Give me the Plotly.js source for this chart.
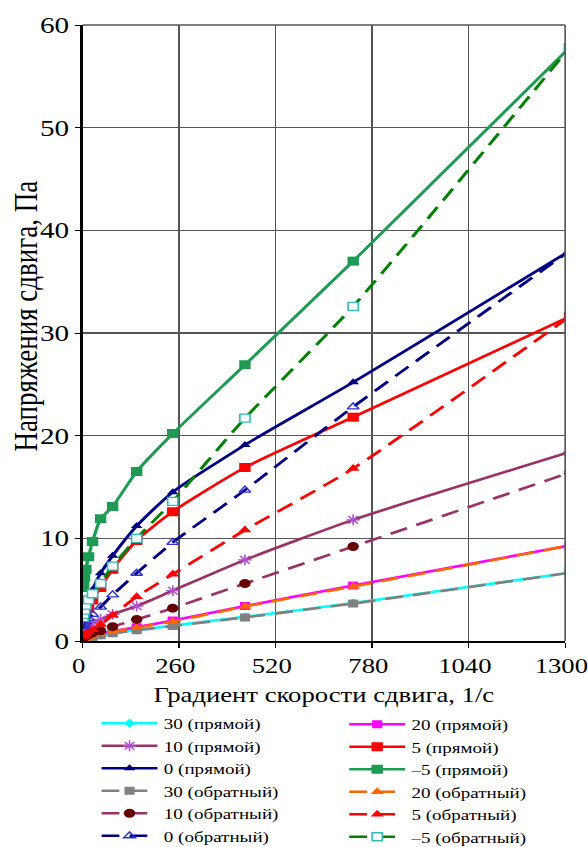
<!DOCTYPE html>
<html>
<head>
<meta charset="utf-8">
<script src="https://cdn.plot.ly/plotly-3.0.1.min.js"></script>
<style>
html,body{margin:0;padding:0;background:#fff;overflow:hidden;width:588px;height:847px;}
#chart{width:472px;height:847px;transform-origin:0 0;}
</style>
</head>
<body>
<div id="chart"></div>
<script>
// Shear rates (1/s)
const rates = [1.5, 3, 5.4, 9, 16.2, 27, 48.6, 81, 145.8, 243, 437.4, 729, 1312];
// Shear stress (Pa) per temperature, direct (прямой) and reverse (обратный)
const s30_direct  = [0.1, 0.15, 0.2, 0.25, 0.3, 0.4, 0.55, 0.75, 1.05, 1.5, 2.35, 3.7, 6.65];
const s20_direct  = [0.15, 0.2, 0.25, 0.3, 0.4, 0.5, 0.7, 0.95, 1.35, 2.0, 3.4, 5.4, 9.3];
const s10_direct  = [0.5, 0.7, 0.9, 1.1, 1.4, 1.7, 2.1, 2.6, 3.4, 4.9, 7.9, 11.8, 18.4];
const s5_direct   = [2.1, 2.3, 2.5, 2.7, 3.2, 4.0, 5.2, 7.0, 9.8, 12.6, 16.9, 21.8, 31.6];
const s0_direct   = [1.6, 2.0, 2.4, 3.0, 4.0, 5.0, 6.6, 8.3, 11.2, 14.5, 19.1, 25.2, 38.0];
const sm5_direct  = [5.2, 5.6, 6.2, 7.0, 8.2, 9.7, 11.9, 13.1, 16.5, 20.2, 26.9, 37.0, 57.8];
const s30_reverse = [0.1, 0.15, 0.2, 0.25, 0.3, 0.4, 0.55, 0.75, 1.05, 1.45, 2.3, 3.65, 6.65];
const s20_reverse = [0.15, 0.2, 0.25, 0.3, 0.4, 0.5, 0.7, 0.9, 1.3, 1.9, 3.35, 5.3, 9.3];
const s10_reverse = [0.3, 0.35, 0.4, 0.5, 0.6, 0.8, 1.0, 1.4, 2.1, 3.2, 5.6, 9.2, 16.4];
const s5_reverse  = [0.45, 0.5, 0.6, 0.7, 0.9, 1.1, 1.6, 2.5, 4.3, 6.5, 10.8, 16.8, 31.6];
const s0_reverse  = [1.4, 1.5, 1.7, 1.9, 2.2, 2.6, 3.3, 4.5, 6.6, 9.6, 14.7, 22.8, 38.0];
const sm5_reverse = [2.3, 2.6, 3.0, 3.5, 4.0, 4.6, 5.6, 7.3, 10.0, 13.6, 21.7, 32.6, 57.8];

const names = ["30 (прямой)", "10 (прямой)", "0 (прямой)", "20 (прямой)", "5 (прямой)", "–5 (прямой)",
               "30 (обратный)", "10 (обратный)", "0 (обратный)", "20 (обратный)", "5 (обратный)", "–5 (обратный)"];
const xTicks = [0, 260, 520, 780, 1040, 1300];
const yTitle = "Напряжения сдвига, Па";
const xTitle = "Градиент скорости сдвига, 1/с";

const DASH = "14px,8px";
function tr(name, y, legend, rank, lineColor, dash, sym, mColor, mSize, mLine) {
  return {
    type: "scatter", mode: "lines+markers", name: name, x: rates, y: y,
    legend: legend, legendrank: rank,
    line: {color: lineColor, width: 2.6, dash: dash, shape: "spline", smoothing: 0.6},
    marker: {symbol: sym, color: mColor, size: mSize, line: mLine || {width: 0}},
    cliponaxis: true
  };
}
const data = [
  tr(names[0], s30_direct, "legend", 1, "#00FFFF", "solid", "diamond", "#00FFFF", 7),
  tr(names[3], s20_direct, "legend2", 1, "#FF00FF", "solid", "square", "#FF00FF", 8),
  tr(names[1], s10_direct, "legend", 2, "#993366", "solid", "asterisk-open", "#B050D0", 9, {color: "#B050D0", width: 1.3}),
  tr(names[4], s5_direct, "legend2", 2, "#FF0000", "solid", "square", "#FF0000", 9),
  tr(names[2], s0_direct, "legend", 3, "#000080", "solid", "triangle-up", "#000080", 8),
  tr(names[5], sm5_direct, "legend2", 3, "#1F9A55", "solid", "square", "#1F9A55", 9),
  tr(names[6], s30_reverse, "legend", 4, "#808080", DASH, "square", "#808080", 8),
  tr(names[9], s20_reverse, "legend2", 4, "#FF6600", DASH, "triangle-up", "#FF6600", 9),
  tr(names[7], s10_reverse, "legend", 5, "#993366", DASH, "circle", "#660000", 9),
  tr(names[10], s5_reverse, "legend2", 5, "#FF0000", DASH, "triangle-up", "#FF0000", 9),
  tr(names[8], s0_reverse, "legend", 6, "#000080", DASH, "triangle-up-open", "#3333CC", 8, {color: "#3333CC", width: 1.3}),
  tr(names[11], sm5_reverse, "legend2", 6, "#008000", DASH, "square", "#FFFFFF", 8, {color: "#33BBBB", width: 1.3})
];

const W = 472;
const FONT = "Liberation Serif, Times New Roman, serif";
const legendCommon = {
  orientation: "v", xanchor: "left", yanchor: "top", xref: "container", yref: "container",
  font: {family: FONT, size: 15}, bgcolor: "rgba(0,0,0,0)",
  tracegroupgap: 0, itemwidth: 44, borderwidth: 0
};
const layout = {
  width: W, height: 847,
  margin: {l: 65, r: 27, t: 25, b: 206, autoexpand: false},
  paper_bgcolor: "#fff", plot_bgcolor: "#fff",
  font: {family: FONT, size: 20, color: "#000"},
  showlegend: true,
  xaxis: {
    range: [0, 1300], tickvals: xTicks, ticktext: xTicks.map(String),
    showgrid: true, gridcolor: "#555", gridwidth: 1.3,
    showline: true, linecolor: "#000", linewidth: 2,
    ticks: "outside", ticklen: 5, tickcolor: "#000",
    zeroline: false, tickfont: {family: FONT, size: 21}, ticklabeloverflow: "allow",
    ticklabelshift: -3,
    title: {text: xTitle, font: {family: FONT, size: 21}, standoff: 10}
  },
  yaxis: {
    range: [0, 60], dtick: 10,
    showgrid: true, gridcolor: "#555", gridwidth: 1.5,
    showline: true, linecolor: "#000", linewidth: 2,
    ticks: "outside", ticklen: 4, tickcolor: "#000",
    zeroline: false, tickfont: {family: FONT, size: 23}
  },
  annotations: [{
    text: yTitle, xref: "paper", yref: "paper", x: -0.119, y: 0.528,
    xanchor: "center", yanchor: "middle", textangle: -90, showarrow: false,
    font: {family: FONT, size: 27, color: "#000"}
  }],
  legend: Object.assign({}, legendCommon, {x: 75 / W, y: 1 - 707 / 847}),
  legend2: Object.assign({}, legendCommon, {x: 270 / W, y: 1 - 708 / 847}),
  shapes: [
    {type: "line", xref: "paper", yref: "paper", x0: 1, x1: 1, y0: 0, y1: 1, line: {color: "#555", width: 1.3}},
    {type: "line", xref: "paper", yref: "paper", x0: 0, x1: 1, y0: 1, y1: 1, line: {color: "#555", width: 1.5}}
  ]
};
Plotly.newPlot("chart", data, layout, {displayModeBar: false, staticPlot: true}).then(function () {
  // Stretch horizontally after layout, to match the reference's aspect
  document.getElementById("chart").style.transform = "scaleX(1.27)";
});
</script>
</body>
</html>
